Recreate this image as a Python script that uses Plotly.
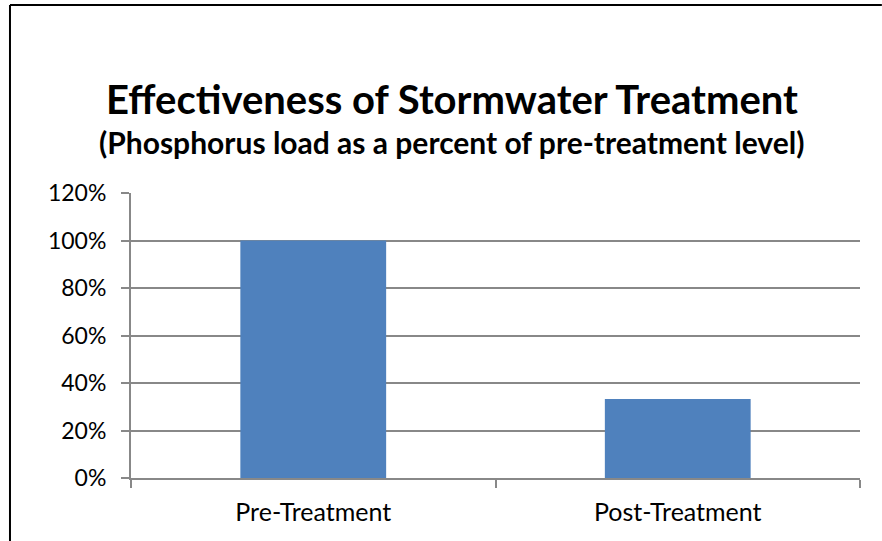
import plotly.graph_objects as go

categories = ['Pre-Treatment', 'Post-Treatment']
phosphorus_pct = [1.0, 0.333]
y_ticks = [0, 0.2, 0.4, 0.6, 0.8, 1.0, 1.2]
y_tick_labels = ['0%', '20%', '40%', '60%', '80%', '100%', '120%']

BAR_COLOR = '#4F81BD'
GRID_COLOR = '#888888'
FONT = 'Lato, Carlito, Calibri, sans-serif'

fig = go.Figure()
fig.add_trace(go.Bar(
    x=categories,
    y=phosphorus_pct,
    marker=dict(color=BAR_COLOR, line=dict(width=0)),
    width=0.4,
))

fig.update_layout(
    width=882,
    height=541,
    margin=dict(l=131, r=22, t=193, b=63),
    paper_bgcolor='white',
    plot_bgcolor='white',
    showlegend=False,
    font=dict(family=FONT, size=23, color='black'),
    xaxis=dict(
        showline=True, linecolor=GRID_COLOR, linewidth=2,
        ticks='outside', tickson='boundaries', ticklen=8, tickcolor=GRID_COLOR, tickwidth=2,
        showgrid=False,
        tickfont=dict(size=25),
        ticklabelstandoff=11,
    ),
    yaxis=dict(
        range=[0, 1.2],
        tickvals=y_ticks, ticktext=y_tick_labels,
        showline=True, linecolor=GRID_COLOR, linewidth=2,
        ticks='outside', ticklen=8, tickcolor=GRID_COLOR, tickwidth=2,
        showgrid=True, gridcolor=GRID_COLOR, gridwidth=2,
        zeroline=False,
        tickfont=dict(size=23),
        ticklabelstandoff=10,
    ),
    annotations=[
        dict(text='<b>Effectiveness of Stormwater Treatment</b>',
             xref='paper', yref='paper', x=0.44, y=1.33, yanchor='middle',
             xanchor='center', showarrow=False, font=dict(size=40)),
        dict(text='<b>(Phosphorus load as a percent of pre-treatment level)</b>',
             xref='paper', yref='paper', x=0.44, y=1.18, yanchor='middle',
             xanchor='center', showarrow=False, font=dict(size=30)),
    ],
    # outer chart border: only left and top edges are inside the picture
    shapes=[
        dict(type='line', xref='paper', yref='paper',
             x0=-0.166, x1=-0.166, y0=-0.25, y1=1.66,
             line=dict(color='black', width=2), layer='below'),
        dict(type='line', xref='paper', yref='paper',
             x0=-0.166, x1=1.03, y0=1.66, y1=1.66,
             line=dict(color='black', width=2), layer='below'),
    ],
)

fig.write_html('out.html', config={'displayModeBar': False},
               post_script="document.body.style.margin='0';")
